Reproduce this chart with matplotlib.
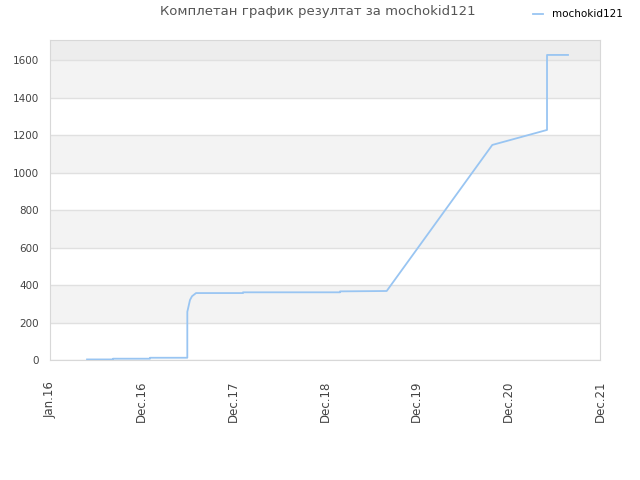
import matplotlib
matplotlib.use("Agg")
import matplotlib.pyplot as plt

# x positions are in tick units: 0 = Jan.16, 1 = Dec.16, ... 6 = Dec.21
tick_labels = ["Jan.16", "Dec.16", "Dec.17", "Dec.18", "Dec.19", "Dec.20", "Dec.21"]
t = [0.404, 0.687, 0.687, 1.091, 1.091, 1.498, 1.498, 1.527, 1.549, 1.575, 1.593,
     2.105, 2.105, 3.164, 3.164, 3.673, 4.825, 5.422, 5.422, 5.651]
score = [3, 3, 7, 7, 12, 12, 257, 320, 340, 350, 357,
         357, 361, 361, 366, 368, 1147, 1227, 1627, 1627]
player = "mochokid121"
y_ticks = [0, 200, 400, 600, 800, 1000, 1200, 1400, 1600]

fig = plt.figure(figsize=(6.4, 4.8), dpi=100)
ax = fig.add_axes([50 / 640, 1 - 360 / 480, 550 / 640, 320 / 480])
ymax = 1706.7

# alternating bands
for lo in range(200, 1600, 400):
    ax.axhspan(lo, lo + 200, color="#f3f3f3", zorder=0, lw=0)
ax.axhspan(1600, ymax, color="#ededed", zorder=0, lw=0)
for y in y_ticks:
    ax.axhline(y, color="#e0e0e0", lw=1, zorder=1)

ax.plot(t, score, color="#99c5f2", lw=1.3, zorder=3, label=player)

ax.set_xlim(0, 6)
ax.set_ylim(0, ymax)
ax.set_xticks(range(len(tick_labels)))
ax.set_xticklabels(tick_labels, rotation=90, fontsize=8.5, color="#444444")
ax.set_yticks(y_ticks)
ax.set_yticklabels([str(v) for v in y_ticks], fontsize=7.5, color="#444444")
ax.tick_params(axis="y", length=0, pad=8)
ax.tick_params(axis="x", length=0, pad=15)
for s in ax.spines.values():
    s.set_color("#d8d8d8")

fig.text(318 / 640, 1 - 12 / 480, "Комплетан график резултат за " + player,
         ha="center", va="center", fontsize=9.5, color="#555555")
fig.legend(loc="upper right", bbox_to_anchor=(632 / 640, 1.0), frameon=False,
           handlelength=1.0, prop={"family": "DejaVu Sans Condensed", "size": 7.5})

fig.savefig("out.png", dpi=100)
